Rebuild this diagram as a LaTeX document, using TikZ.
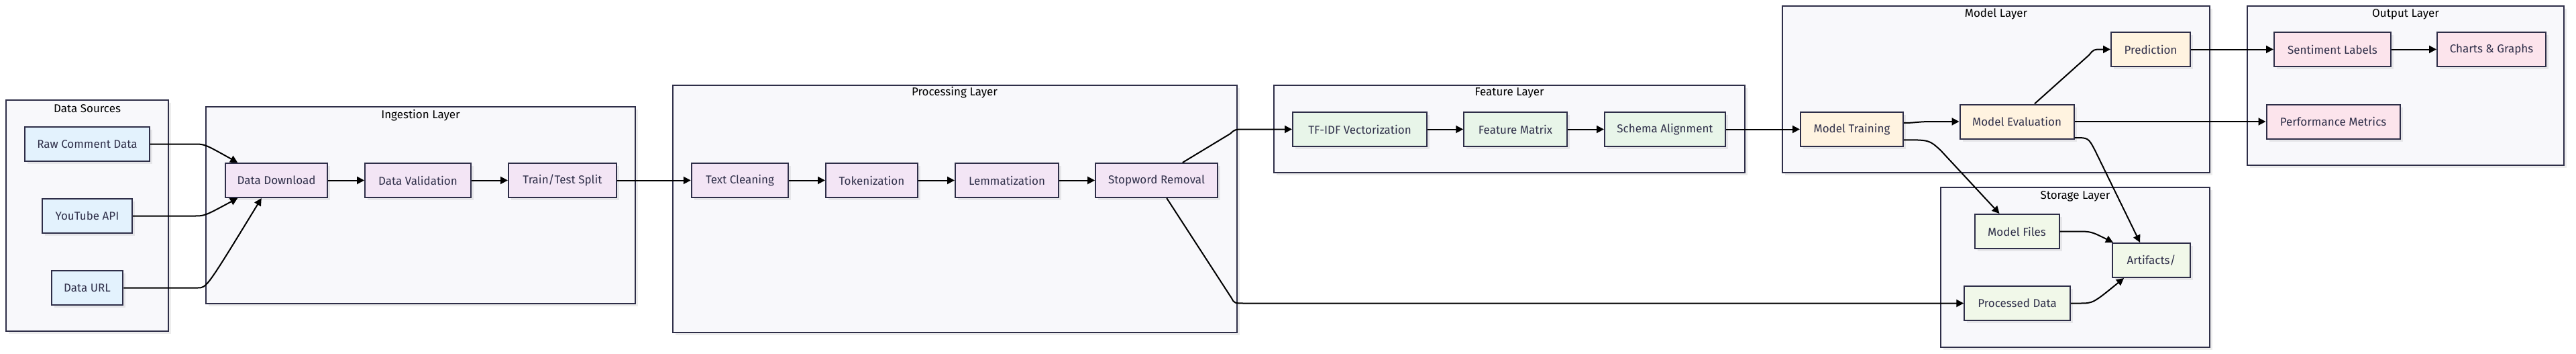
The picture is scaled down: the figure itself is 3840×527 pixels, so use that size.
\documentclass[tikz,border=0pt]{standalone}
\usepackage{fontspec}
\setmainfont{Fira Sans}
\usetikzlibrary{arrows.meta,shadows}
\definecolor{clfill}{HTML}{F8F8FB}
\definecolor{strk}{HTML}{2E2E48}
\definecolor{txt}{HTML}{30304A}
\definecolor{cblue}{HTML}{E3F2FD}
\definecolor{cpurp}{HTML}{F3E5F5}
\definecolor{cgreen}{HTML}{E8F5E9}
\definecolor{cstore}{HTML}{F1F8E9}
\definecolor{corange}{HTML}{FFF3E0}
\definecolor{cpink}{HTML}{FCE4EC}
\tikzset{
  shd/.style={drop shadow={shadow xshift=4pt,shadow yshift=-4pt,fill=black,opacity=0.07}},
  cluster/.style={draw=strk,line width=2pt,fill=clfill,shd},
  ctitle/.style={font=\fontsize{17}{20}\selectfont,text=black,anchor=center,inner sep=0pt},
  box/.style={draw=strk,line width=2pt,minimum height=51pt,inner sep=0pt,
    font=\fontsize{17}{20}\selectfont,text=txt,shd,anchor=center},
  src/.style={box,fill=cblue},
  ing/.style={box,fill=cpurp},
  feat/.style={box,fill=cgreen},
  stor/.style={box,fill=cstore},
  mdl/.style={box,fill=corange},
  outp/.style={box,fill=cpink},
  conn/.style={draw=black,line width=2pt,-{Triangle[length=11pt,width=11pt]}},
}
\begin{document}
\begin{tikzpicture}[x=1pt,y=-1pt]
\useasboundingbox (0,0) rectangle (3840,527);
\fill[white] (0,0) rectangle (3840,527);

% clusters
\draw[cluster] (9,149) rectangle (251,493);
\node[ctitle] (tds) at (130,162) {Data Sources};
\draw[cluster] (307,159) rectangle (947,452);
\node[ctitle] (tin) at (627,172) {Ingestion Layer};
\draw[cluster] (1003,127) rectangle (1843.5,495);
\node[ctitle] (tpr) at (1423,138) {Processing Layer};
\draw[cluster] (1899,127) rectangle (2601,257);
\node[ctitle] (tfe) at (2250,138) {Feature Layer};
\draw[cluster] (2657,9) rectangle (3294,257);
\node[ctitle] (tmo) at (2975.5,21) {Model Layer};
\draw[cluster] (3350,9) rectangle (3822,246);
\node[ctitle] (tou) at (3586,21) {Output Layer};
\draw[cluster] (2893,279) rectangle (3294,517);
\node[ctitle] (tst) at (3093.5,292) {Storage Layer};

% nodes
\node[src,minimum width=186pt] (raw) at (130,214.5) {Raw Comment Data};
\node[src,minimum width=133.5pt] (yt) at (130,321.5) {YouTube API};
\node[src,minimum width=106.5pt] (url) at (130,428.5) {Data URL};

\node[ing,minimum width=152.5pt] (dd) at (412,268.5) {Data Download};
\node[ing,minimum width=157.6pt] (dv) at (623,268.5) {Data Validation};
\node[ing,minimum width=161pt] (tts) at (838.5,268.5) {Train/Test Split};

\node[ing,minimum width=144.5pt] (tc) at (1103,268.5) {Text Cleaning};
\node[ing,minimum width=137pt] (tok) at (1299.5,268.5) {Tokenization};
\node[ing,minimum width=154pt] (lem) at (1501,268.5) {Lemmatization};
\node[ing,minimum width=181.6pt] (stop) at (1724,268.5) {Stopword Removal};

\node[feat,minimum width=200pt] (tfidf) at (2027,192.5) {TF-IDF Vectorization};
\node[feat,minimum width=153.5pt] (fm) at (2259,192.5) {Feature Matrix};
\node[feat,minimum width=180pt] (sa) at (2482,192.5) {Schema Alignment};

\node[mdl,minimum width=153pt] (mt) at (2760.5,192.5) {Model Training};
\node[mdl,minimum width=170pt] (me) at (3006.5,181) {Model Evaluation};
\node[mdl,minimum width=118pt] (pred) at (3206,73.5) {Prediction};

\node[outp,minimum width=174pt] (sl) at (3477,73.5) {Sentiment Labels};
\node[outp,minimum width=162pt] (cg) at (3714,73.5) {Charts \& Graphs};
\node[outp,minimum width=199pt] (pm) at (3478,181) {Performance Metrics};

\node[stor,minimum width=126pt] (mf) at (3006.5,344.5) {Model Files};
\node[stor,minimum width=116pt] (art) at (3207,387.5) {Artifacts/};
\node[stor,minimum width=157.5pt] (pd) at (3007,451.5) {Processed Data};

% connectors
\draw[conn] (raw.east) -- (290,214.5) .. controls (305,214.5) .. ([xshift=19.5pt]dd.north west);
\draw[conn] (yt.east) -- (290,321.5) .. controls (305,321.5) .. ([xshift=19.5pt]dd.south west);
\draw[conn] (url.east) -- (295,428.5) .. controls (308,428.5) .. ([xshift=55pt]dd.south west);
\draw[conn] (dd) -- (dv);
\draw[conn] (dv) -- (tts);
\draw[conn] (tts) -- (tc);
\draw[conn] (tc) -- (tok);
\draw[conn] (tok) -- (lem);
\draw[conn] (lem) -- (stop);
\draw[conn] ([xshift=130.6pt]stop.north west) -- (1834,199) .. controls (1841,192.5) .. (1856,192.5) -- (tfidf.west);
\draw[conn] ([xshift=107pt]stop.south west) -- (1836,444) .. controls (1840,451.5) .. (1856,451.5) -- (pd.west);
\draw[conn] (tfidf) -- (fm);
\draw[conn] (fm) -- (sa);
\draw[conn] (sa) -- (mt);
\draw[conn] ([yshift=9.5pt]mt.east) .. controls (2855,183) and (2860,181) .. (2878,181) -- (me.west);
\draw[conn] ([xshift=112.4pt]me.north west) -- (3114,82) .. controls (3121,73.5) .. (3133,73.5) -- (pred.west);
\draw[conn] (pred) -- (sl);
\draw[conn] (sl) -- (cg);
\draw[conn] (me.east) -- (pm.west);
\draw[conn] ([yshift=-15.8pt]mt.east) .. controls (2876,208.3) .. (2893,224) -- ([xshift=38pt]mf.north west);
\draw[conn] ([yshift=-24pt]me.east) .. controls (3113,205) .. (3123,224) -- ([xshift=42pt]art.north west);
\draw[conn] (mf.east) -- (3095,344.5) .. controls (3117,344.5) .. ([xshift=2pt]art.north west);
\draw[conn] (pd.east) -- (3100,451.5) .. controls (3120,451.5) .. ([xshift=18pt]art.south west);
\end{tikzpicture}
\end{document}
